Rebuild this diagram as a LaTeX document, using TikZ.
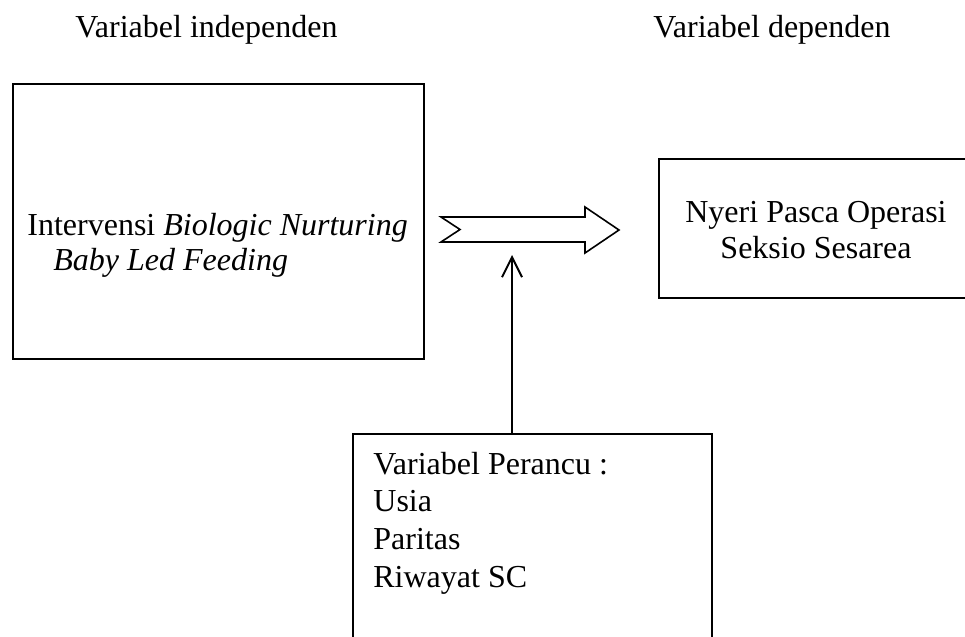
\documentclass[tikz,border=0pt]{standalone}
\usepackage{fontspec}
\setmainfont{Liberation Serif}
\usetikzlibrary{arrows.meta,calc,positioning}
\tikzset{
frame/.style={draw,line width=1pt,inner sep=0pt,anchor=north west},
lbl/.style={anchor=base west,inner sep=0pt,font=\fontsize{16}{18}\selectfont},
mid lbl/.style={lbl,anchor=base},
}

\begin{document}
\begin{tikzpicture}[x=0.5pt,y=-0.5pt]
    \useasboundingbox (0,0) rectangle (965,637);
    % headings
    \node[lbl] (hind) at (75,37) {Variabel independen};
    \node[lbl] (hdep) at (653,37) {Variabel dependen};

    % boxes
    \node[frame,minimum width=205.5pt,minimum height=137.5pt] (indep) at (12,83) {};
    \node[frame,minimum width=180pt,minimum height=69.5pt] (dep) at (658,158) {};
    \node[frame,minimum width=179.5pt,minimum height=115pt] (conf) at (352,433) {};

    \node[lbl] (intv) at (27,235) {Intervensi \textit{Biologic Nurturing}};
    \node[lbl] (intv2) at ([yshift=-17.5pt]intv.base west -| 53,0) {\textit{Baby Led Feeding}};

    \node[mid lbl] (nyeri) at (816,222) {Nyeri Pasca Operasi};
    \node[mid lbl] (sc) at ([yshift=-18pt]nyeri.base) {Seksio Sesarea};

    \node[lbl] (perancu) at (373,474) {Variabel Perancu :};
    \node[lbl] (usia) at ([yshift=-18.5pt]perancu.base west) {Usia};
    \node[lbl] (paritas) at ([yshift=-19pt]usia.base west) {Paritas};
    \node[lbl] (riwayat) at ([yshift=-19pt]paritas.base west) {Riwayat SC};

    % block arrow
    \coordinate (tail) at (441,217);
    \draw[line width=0.8pt,line join=miter] (tail) -- ++(144,0) -- ++(0,-10) -- ++(34,23)
        -- ++(-34,23) -- ++(0,-11) -- ++(-144,0) -- ++(19,-12.5) -- cycle;

    \coordinate (hit) at (512,255);
    \draw[line width=1pt,-{Straight Barb[length=10pt,width=10pt]}] (hit |- conf.north) -- (hit);
\end{tikzpicture}
\end{document}
